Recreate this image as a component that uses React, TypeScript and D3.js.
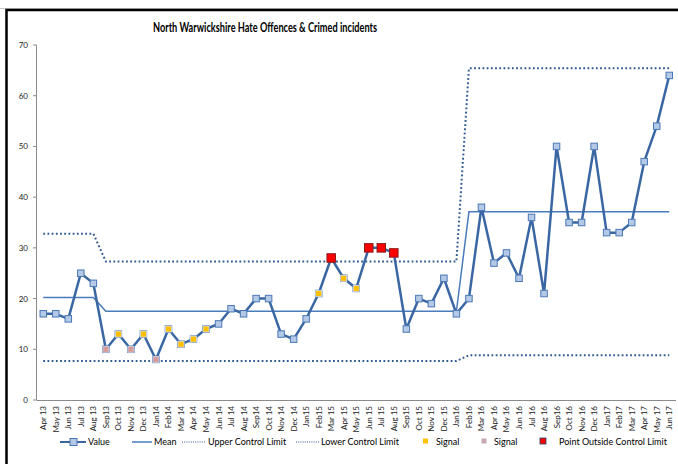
import React from "react";
import * as d3 from "d3";

const categories = ["Apr 13","May 13","Jun 13","Jul 13","Aug 13","Sep13","Oct 13","Nov 13","Dec 13","Jan14","Feb14","Mar 14","Apr 14","May 14","Jun 14","Jul 14","Aug 14","Sep14","Oct 14","Nov 14","Dec 14","Jan15","Feb15","Mar 15","Apr 15","May 15","Jun 15","Jul 15","Aug 15","Sep15","Oct 15","Nov 15","Dec 15","Jan16","Feb16","Mar 16","Apr 16","May 16","Jun 16","Jul 16","Aug 16","Sep16","Oct 16","Nov 16","Dec 16","Jan17","Feb17","Mar 17","Apr 17","May 17","Jun 17"];

const values = [17,17,16,25,23,10,13,10,13,8,14,11,12,14,15,18,17,20,20,13,12,16,21,28,24,22,30,30,29,14,20,19,24,17,20,38,27,29,24,36,21,50,35,35,50,33,33,35,47,54,64];

// control limits per phase: [first index, last index, value]
const meanPhases = [[0,4,20.2],[5,33,17.5],[34,50,37.1]];
const uclPhases = [[0,4,32.8],[5,33,27.3],[34,50,65.4]];
const lclPhases = [[0,4,7.7],[5,33,7.7],[34,50,8.8]];

const signalYellow = ["Oct 13","Dec 13","Feb14","Mar 14","Apr 14","May 14","Feb15","Apr 15","May 15"];
const signalPink = ["Sep13","Nov 13","Jan14"];
const outsideRed = ["Mar 15","Jun 15","Jul 15","Aug 15"];

const yTicks = [0,10,20,30,40,50,60,70];

const W = 678, H = 464;
const FONT = "Lato, 'Open Sans', sans-serif";

function phaseSeries(phases: number[][]) {
  const arr: number[] = new Array(categories.length).fill(0);
  phases.forEach(([a, b, v]) => { for (let i = a; i <= b; i++) arr[i] = v; });
  return arr;
}

export default function App() {
  const x = d3.scaleBand<string>().domain(categories).range([37, 675.5]);
  const cx = (c: string) => (x(c) as number) + x.bandwidth() / 2;
  const y = d3.scaleLinear().domain([0, 70]).range([400, 45]);

  const line = d3.line<[string, number]>().x(d => cx(d[0])).y(d => y(d[1]));
  const valData: [string, number][] = categories.map((c, i) => [c, values[i]]);
  const mean = phaseSeries(meanPhases);
  const ucl = phaseSeries(uclPhases);
  const lcl = phaseSeries(lclPhases);
  const toPairs = (arr: number[]) => categories.map((c, i) => [c, arr[i]] as [string, number]);

  const valueColor = "#3a67a3";
  const markerFill = "#b4c9e6";
  const markerStroke = "#4a78b6";
  const limitColor = "#2f5a92";

  const valueOf = (c: string) => values[categories.indexOf(c)];

  return (
    <svg width={W} height={H} style={{ position: "absolute", left: 0, top: 0, background: "#fff" }} fontFamily={FONT}>
      <line x1={0} x2={W} y1={8.5} y2={8.5} stroke="#c8c8c8" strokeWidth={1} />
      <rect x={6.5} y={10} width={800} height={600} fill="none" stroke="#000" strokeWidth={2.5} />

      <text x={265} y={32} textAnchor="middle" fontWeight="bold" fontSize={13} textLength={224} lengthAdjust="spacingAndGlyphs" fill="#000">
        North Warwickshire Hate Offences &amp; Crimed incidents
      </text>

      {/* y axis */}
      <line x1={36.5} x2={36.5} y1={y(70)} y2={y(0)} stroke="#8a8a8a" strokeWidth={1} />
      {yTicks.map(t => (
        <g key={t}>
          <line x1={33} x2={36.5} y1={y(t)} y2={y(t)} stroke="#8a8a8a" />
          <text x={28} y={y(t) + 3} textAnchor="end" fontSize={8} fill="#222">{t}</text>
        </g>
      ))}
      {/* x axis */}
      <line x1={36.5} x2={676} y1={y(0) + 0.5} y2={y(0) + 0.5} stroke="#8a8a8a" strokeWidth={1} />
      {categories.map(c => (
        <text key={c} transform={`translate(${cx(c) + 3},${406}) rotate(-90)`} textAnchor="end" fontSize={8} fill="#222">{c}</text>
      ))}

      {/* limits */}
      <path d={line(toPairs(ucl)) || ""} fill="none" stroke={limitColor} strokeWidth={2} strokeDasharray="1.8 2.4" />
      <path d={line(toPairs(lcl)) || ""} fill="none" stroke={limitColor} strokeWidth={2} strokeDasharray="1.8 2.4" />
      <path d={line(toPairs(mean)) || ""} fill="none" stroke="#4a7bbb" strokeWidth={1.5} />

      {/* value */}
      <path d={line(valData) || ""} fill="none" stroke={valueColor} strokeWidth={2.5} strokeLinejoin="round" />
      {valData.map(([c, v]) => (
        <rect key={c} x={cx(c) - 3.25} y={y(v) - 3.25} width={6.5} height={6.5} fill={markerFill} stroke={markerStroke} strokeWidth={1} />
      ))}
      {signalYellow.map(c => (
        <rect key={"y" + c} x={cx(c) - 3} y={y(valueOf(c)) - 3} width={6} height={6} fill="#ffc000" stroke="#d6dde8" strokeWidth={0.8} />
      ))}
      {signalPink.map(c => (
        <rect key={"p" + c} x={cx(c) - 3} y={y(valueOf(c)) - 3} width={6} height={6} fill="#d99a9a" stroke="#c9d3e2" strokeWidth={0.8} />
      ))}
      {outsideRed.map(c => (
        <rect key={"r" + c} x={cx(c) - 4.25} y={y(valueOf(c)) - 4.25} width={8.5} height={8.5} fill="#ff0000" stroke="#8b1a1a" strokeWidth={1} />
      ))}

      {/* legend */}
      <g fontSize={9} fill="#000">
        <line x1={60} x2={86} y1={442} y2={442} stroke={valueColor} strokeWidth={2} />
        <rect x={70} y={438.5} width={7} height={7} fill={markerFill} stroke={markerStroke} />
        <text x={88} y={445}>Value</text>
        <line x1={132} x2={152} y1={442} y2={442} stroke="#4a7bbb" strokeWidth={1.5} />
        <text x={154} y={445}>Mean</text>
        <line x1={182} x2={206} y1={442} y2={442} stroke={limitColor} strokeWidth={1} strokeDasharray="1 1.2" />
        <text x={208} y={445}>Upper Control Limit</text>
        <line x1={296} x2={319} y1={442} y2={442} stroke={limitColor} strokeWidth={1} strokeDasharray="1 1.2" />
        <text x={321} y={445}>Lower Control Limit</text>
        <rect x={423} y={438.5} width={5} height={5} fill="#ffc000" />
        <text x={436} y={445}>Signal</text>
        <rect x={481.5} y={438.5} width={5} height={5} fill="#c8a6b4" />
        <text x={494} y={445}>Signal</text>
        <rect x={540} y={438} width={6} height={6} fill="#ff0000" stroke="#1f3f7a" strokeWidth={0.8} />
        <text x={559} y={445}>Point Outside  Control Limit</text>
      </g>
    </svg>
  );
}
